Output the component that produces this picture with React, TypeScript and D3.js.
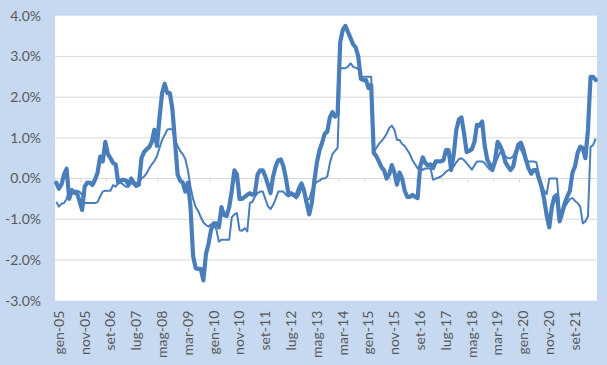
import { useMemo } from "react";
import * as d3 from "d3";

const WIDTH = 607;
const HEIGHT = 365;
const PLOT = { left: 55, right: 597, top: 15.7, bottom: 300.7 };

const MONTHS = ["gen", "feb", "mar", "apr", "mag", "giu", "lug", "ago", "set", "ott", "nov", "dic"];
const FIRST_YEAR = 2005;
const N_MONTHS = 210; // gen-05 .. giu-22
const LABEL_EVERY = 10;

const yTicks = [-3, -2, -1, 0, 1, 2, 3, 4];

// thick line, monthly %
const seriesA = [
  -0.1, -0.25, -0.15, 0.1, 0.24, -0.5, -0.3, -0.35, -0.35, -0.55, -0.77, -0.2,
  -0.1, -0.1, -0.16, -0.03, 0.15, 0.54, 0.42, 0.9, 0.6, 0.5, 0.38, 0.35,
  -0.1, -0.05, -0.03, -0.05, -0.15, 0.0, -0.1, -0.18, -0.15, 0.5, 0.65, 0.72,
  0.77, 0.9, 1.2, 0.8, 1.5, 2.1, 2.33, 2.1, 2.1, 1.7, 0.9, 0.1,
  -0.05, -0.1, -0.32, -0.1, -0.7, -1.9, -2.2, -2.22, -2.22, -2.5, -1.85, -1.6,
  -1.25, -1.1, -1.1, -1.2, -0.7, -0.9, -0.92, -0.7, -0.3, 0.2, 0.1, -0.5,
  -0.5, -0.45, -0.4, -0.36, -0.4, -0.35, 0.1, 0.2, 0.2, 0.05, -0.15, -0.36,
  0.05, 0.3, 0.45, 0.47, 0.3, 0.0, -0.4, -0.36, -0.4, -0.42, -0.25, -0.12,
  -0.3, -0.6, -0.88, -0.6, -0.05, 0.4, 0.7, 0.88, 1.1, 1.15, 1.5, 1.63,
  1.52, 1.6, 3.35, 3.65, 3.75, 3.6, 3.45, 3.3, 3.22, 3.0, 2.45, 2.42,
  2.42, 2.22, 2.3, 0.63, 0.55, 0.42, 0.28, 0.2, 0.0, 0.1, 0.33, 0.15,
  -0.15, 0.15, 0.0, -0.3, -0.45, -0.45, -0.4, -0.45, -0.48, 0.3, 0.52, 0.38,
  0.32, 0.35, 0.26, 0.42, 0.42, 0.42, 0.45, 0.7, 0.7, 0.21, 0.6, 1.2,
  1.45, 1.5, 1.1, 0.65, 0.68, 0.72, 0.9, 1.32, 1.3, 1.4, 0.8, 0.46,
  0.34, 0.21, 0.45, 0.9, 0.8, 0.65, 0.4, 0.3, 0.21, 0.29, 0.6, 0.83,
  0.88, 0.7, 0.45, 0.25, 0.12, 0.21, 0.21, 0.0, -0.2, -0.5, -0.9, -1.2,
  -0.7, -0.45, -0.4, -1.05, -0.85, -0.6, -0.44, -0.3, 0.15, 0.3, 0.63, 0.78,
  0.75, 0.5, 1.2, 2.5, 2.5, 2.42,
];

// thin line, monthly %
const seriesB = [
  -0.57, -0.69, -0.62, -0.6, -0.5, -0.3, -0.25, -0.3, -0.3, -0.32, -0.4, -0.6,
  -0.6, -0.6, -0.6, -0.6, -0.58, -0.44, -0.32, -0.3, -0.3, -0.3, -0.16, -0.2,
  -0.1, -0.1, -0.15, -0.2, -0.2, -0.1, -0.15, -0.1, -0.1, 0.0, 0.05, 0.13,
  0.25, 0.35, 0.43, 0.55, 0.75, 0.95, 1.07, 1.2, 1.22, 1.2, 0.95, 0.8,
  0.68, 0.6, 0.48, 0.2, -0.2, -0.5, -0.7, -0.8, -0.95, -1.08, -1.14, -1.18,
  -1.12, -1.12, -1.25, -1.55, -1.5, -1.5, -1.5, -1.5, -0.95, -0.88, -0.85, -1.27,
  -1.28, -1.22, -1.3, -0.6, -0.57, -0.44, -0.36, -0.32, -0.32, -0.5, -0.68, -0.75,
  -0.65, -0.5, -0.32, -0.32, -0.32, -0.4, -0.44, -0.4, -0.44, -0.49, -0.4, -0.24,
  -0.3, -0.53, -0.5, -0.3, -0.15, -0.08, -0.05, 0.0, 0.0, 0.05, 0.38, 0.6,
  0.68, 0.75, 2.71, 2.71, 2.71, 2.75, 2.83, 2.75, 2.72, 2.7, 2.5, 2.5,
  2.5, 2.5, 2.5, 0.66, 0.75, 0.85, 0.92, 1.0, 1.1, 1.24, 1.3, 1.2,
  0.95, 0.95, 0.85, 0.8, 0.7, 0.6, 0.45, 0.35, 0.25, 0.3, 0.21, 0.25,
  0.25, 0.25, -0.03, 0.0, 0.02, 0.05, 0.1, 0.17, 0.21, 0.25, 0.3, 0.4,
  0.48, 0.5, 0.45, 0.38, 0.3, 0.22, 0.32, 0.42, 0.42, 0.42, 0.38, 0.29,
  0.22, 0.22, 0.35, 0.5, 0.65, 0.58, 0.55, 0.5, 0.5, 0.55, 0.68, 0.78,
  0.72, 0.58, 0.45, 0.42, 0.42, 0.42, 0.4, 0.1, -0.15, -0.3, -0.38, 0.0,
  0.0, 0.0, 0.0, -0.8, -0.85, -0.7, -0.6, -0.5, -0.48, -0.55, -0.6, -0.69,
  -1.1, -1.05, -0.93, 0.78, 0.82, 0.98,
];

const categories = d3.range(N_MONTHS).map((i) => {
  const yy = String((FIRST_YEAR + Math.floor(i / 12)) % 100).padStart(2, "0");
  return `${MONTHS[i % 12]}-${yy}`;
});

const LINE_COLOR = "#4A7EBB";
const BG = "#C6D9F1";
const GRID = "#D9D9D9";
const TEXT = "#595959";
const FONT = "Lato, 'Open Sans', sans-serif";

export default function App() {
  const x = useMemo(
    () => d3.scaleBand<string>().domain(categories).range([PLOT.left, PLOT.right]),
    []
  );
  const y = useMemo(
    () => d3.scaleLinear().domain([-3, 4]).range([PLOT.bottom, PLOT.top]),
    []
  );
  const bw = x.bandwidth();
  const cx = (i: number) => (x(categories[i]) as number) + bw / 2;

  const line = d3
    .line<number>()
    .x((_, i) => cx(i))
    .y((d) => y(d));

  const labelIdx = categories.map((_, i) => i).filter((i) => i % LABEL_EVERY === 0);

  return (
    <svg
      width={WIDTH}
      height={HEIGHT}
      style={{ position: "absolute", left: 0, top: 0, display: "block" }}
    >
      <rect x={0} y={0} width={WIDTH} height={HEIGHT} fill={BG} />
      <rect
        x={PLOT.left}
        y={PLOT.top}
        width={PLOT.right - PLOT.left}
        height={PLOT.bottom - PLOT.top}
        fill="#fff"
      />
      {yTicks.map((t) => (
        <g key={t}>
          {t !== 4 && t !== -3 && (
            <line x1={PLOT.left} x2={PLOT.right} y1={y(t)} y2={y(t)} stroke={GRID} strokeWidth={1} />
          )}
          <text
            x={41}
            y={y(t)}
            dy="0.35em"
            textAnchor="end"
            fontFamily={FONT}
            fontSize={14}
            fill={TEXT}
          >
            {`${t.toFixed(1)}%`}
          </text>
        </g>
      ))}
      {labelIdx.map((i) => (
        <line
          key={`tk${i}`}
          x1={x(categories[i]) as number}
          x2={x(categories[i]) as number}
          y1={y(0)}
          y2={y(0) + 4}
          stroke={GRID}
        />
      ))}
      {labelIdx.map((i) => (
        <text
          key={`lb${i}`}
          transform={`translate(${cx(i) + 2.5},${PLOT.bottom + 10}) rotate(-90)`}
          dy="0.35em"
          textAnchor="end"
          fontFamily={FONT}
          fontSize={14}
          fill={TEXT}
        >
          {categories[i]}
        </text>
      ))}
      <path
        d={line(seriesB) ?? ""}
        fill="none"
        stroke={LINE_COLOR}
        strokeWidth={2}
        strokeLinejoin="round"
      />
      <path
        d={line(seriesA) ?? ""}
        fill="none"
        stroke={LINE_COLOR}
        strokeWidth={4.2}
        strokeLinejoin="round"
        strokeLinecap="round"
      />
    </svg>
  );
}
